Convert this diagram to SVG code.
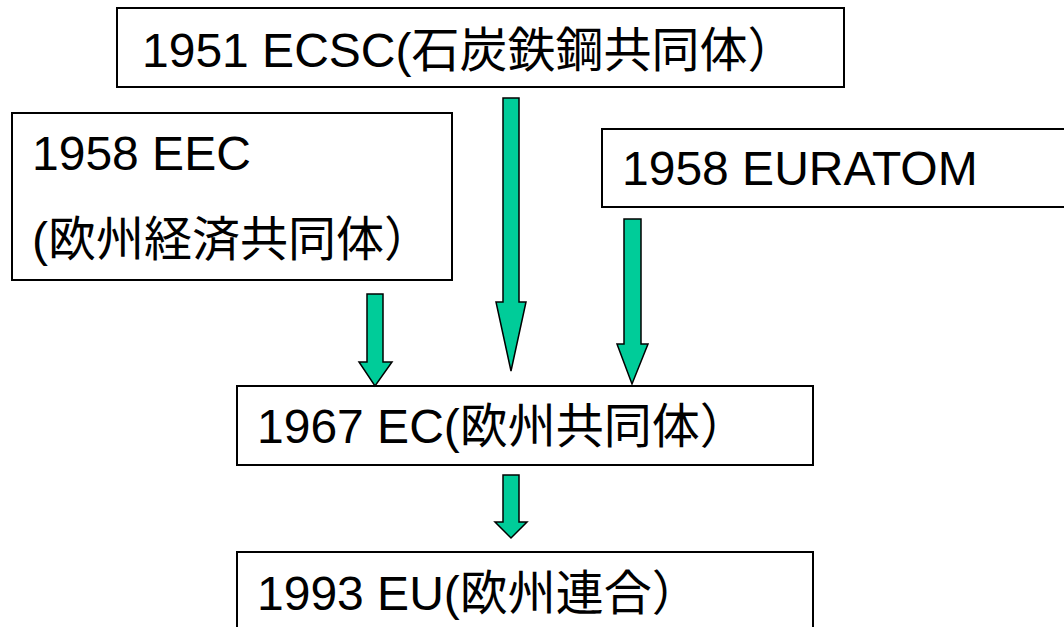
<svg xmlns="http://www.w3.org/2000/svg" width="1064" height="627" viewBox="0 0 1064 627">
<style>
.box{fill:#fff;stroke:#000;stroke-width:2}
.t{font-family:"Liberation Sans","Noto Sans CJK JP",sans-serif;font-size:48px;fill:#000}
.arr{fill:#00cc99;stroke:#000;stroke-width:1.5;stroke-linejoin:miter}
</style>
<rect width="1064" height="627" fill="#fff"/>
<g id="ecsc"><rect class="box" x="117" y="8" width="727" height="79"/><text class="t" x="142" y="67">1951 ECSC(石炭鉄鋼共同体）</text></g>
<g id="eec"><rect class="box" x="12" y="113" width="440" height="167"/><text class="t" x="32" y="170">1958 EEC</text><text class="t" x="32" y="256">(欧州経済共同体）</text></g>
<g id="euratom"><rect class="box" x="602" y="129" width="470" height="78"/><text class="t" x="622" y="185">1958 EURATOM</text></g>
<g id="ec"><rect class="box" x="237" y="386" width="576" height="79"/><text class="t" x="257" y="443">1967 EC(欧州共同体）</text></g>
<g id="eu"><rect class="box" x="237" y="552" width="576" height="90"/><text class="t" x="257" y="610">1993 EU(欧州連合）</text></g>
<g id="connectors">
<path class="arr" d="M503,98 H519 V302 H526 L511,371 L496,302 H503 Z"/>
<path class="arr" d="M367,294 H383 V362 H392 L375,386 L359,362 H367 Z"/>
<path class="arr" d="M624,219 H641 V344 H648 L632,384 L617,344 H624 Z"/>
<path class="arr" d="M503,475 H519 V522 H527 L511,538 L495,522 H503 Z"/>
</g>
</svg>
